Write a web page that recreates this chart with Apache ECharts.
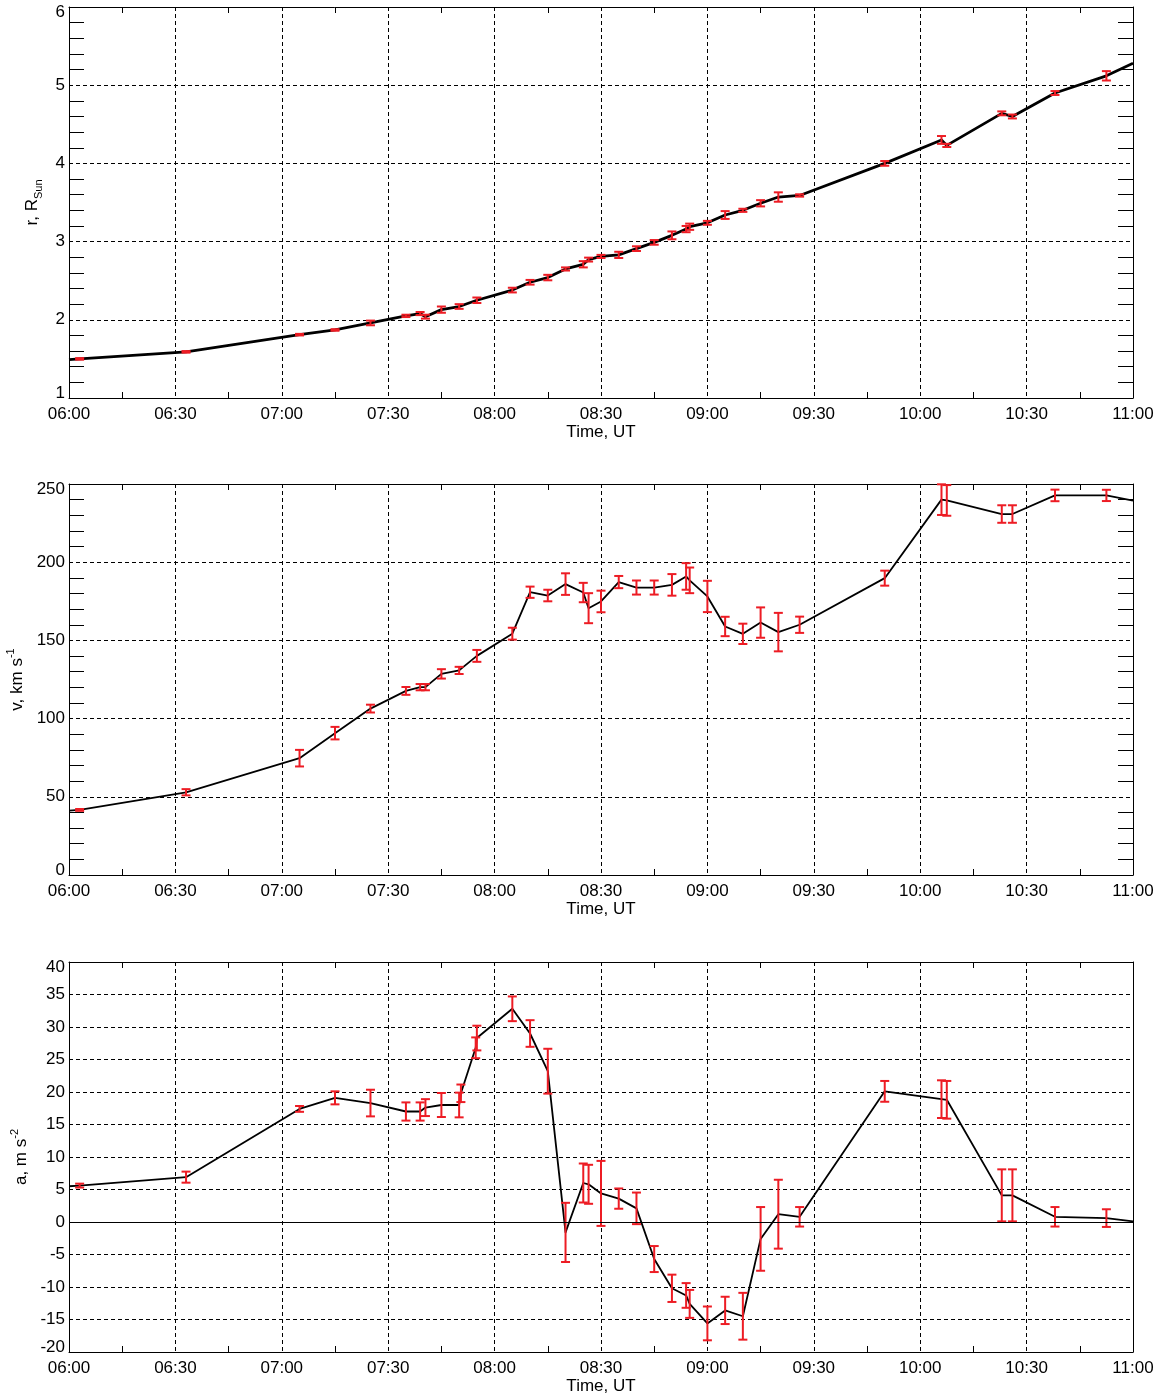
<!DOCTYPE html>
<html>
<head>
<meta charset="utf-8">
<title>r, v, a vs time</title>
<script src="https://cdn.jsdelivr.net/npm/echarts@6.0.0/dist/echarts.min.js"></script>
<style>
  html, body { margin: 0; padding: 0; background: #fff; }
  #chart { width: 1160px; height: 1397px; }
</style>
</head>
<body>
<div id="chart"></div>
<script>
// time axis: 06:00 .. 11:00, labelled every 30 min
const timeLabels = ['06:00', '06:30', '07:00', '07:30', '08:00', '08:30', '09:00', '09:30', '10:00', '10:30', '11:00'];

// top panel: distance, R_Sun
const rTimes = ['06:03', '06:33', '07:05', '07:15', '07:25', '07:35', '07:39', '07:40:30', '07:45', '07:50', '07:55',
  '08:05', '08:10', '08:15', '08:20', '08:25', '08:26:30', '08:30', '08:35', '08:40', '08:45', '08:50', '08:54', '08:55',
  '09:00', '09:05', '09:10', '09:15', '09:20', '09:26', '09:50', '10:06', '10:07:30', '10:23', '10:26', '10:38', '10:52:30'];
const rValues = [1.50, 1.59, 1.81, 1.87, 1.96, 2.05, 2.08, 2.04, 2.13, 2.17, 2.25,
  2.38, 2.48, 2.54, 2.65, 2.71, 2.77, 2.81, 2.83, 2.91, 2.99, 3.08, 3.16, 3.19,
  3.24, 3.34, 3.40, 3.49, 3.57, 3.59, 4.00, 4.30, 4.23, 4.64, 4.60, 4.90, 5.12];
const rErrors = [0.01, 0.01, 0.01, 0.01, 0.03, 0.015, 0.02, 0.025, 0.04, 0.03, 0.035,
  0.03, 0.03, 0.035, 0.02, 0.04, 0.025, 0.02, 0.04, 0.03, 0.03, 0.05, 0.04, 0.04,
  0.025, 0.05, 0.02, 0.04, 0.06, 0.015, 0.03, 0.05, 0.02, 0.025, 0.025, 0.025, 0.06];
// where the curve meets the frame
const rEdgeTimes = ['06:00', '11:00'];
const rEdgeValues = [1.49, 5.28];

// middle panel: speed, km/s
const vTimes = rTimes;
const vValues = [41.6, 52.9, 74.7, 90.7, 106.4, 117.7, 120.1, 120.1, 128.6, 130.8, 140.1,
  154.3, 180.8, 178.7, 186.0, 180.6, 170.6, 174.9, 187.3, 183.8, 183.8, 185.5, 190.9, 188.4,
  178.1, 158.9, 154.2, 161.4, 155.3, 160.0, 189.8, 240.0, 239.5, 230.8, 230.8, 242.7, 242.7];
const vErrors = [0.6, 2, 5.3, 4, 2.5, 2.5, 2, 2, 3, 2.3, 3.8,
  3.8, 3.6, 3.7, 6.9, 6.2, 9.6, 6.9, 3.9, 4.5, 4.5, 6.9, 8.5, 8.2,
  10, 6.2, 6.5, 9.7, 12.3, 5.2, 4.8, 9.8, 9.8, 5.6, 5.6, 3.7, 3.6];
const vEdgeTimes = ['06:00', '11:00'];
const vEdgeValues = [41.2, 239.3];

// bottom panel: acceleration, m/s^2
const aTimes = ['06:03', '06:33', '07:05', '07:15', '07:25', '07:35', '07:39', '07:40:30', '07:45', '07:50', '07:50:30',
  '07:54:40', '07:55', '08:05', '08:10', '08:15', '08:20', '08:25', '08:26:30', '08:30', '08:35', '08:40', '08:45', '08:50',
  '08:54', '08:55', '09:00', '09:05', '09:10', '09:15', '09:20', '09:26', '09:50', '10:06', '10:07:30', '10:23', '10:26',
  '10:38', '10:52:30'];
const aValues = [5.6, 6.9, 17.4, 19.1, 18.3, 17.0, 17.0, 17.6, 18.0, 18.0, 19.8,
  26.8, 28.3, 32.8, 29.0, 23.2, -1.6, 6.0, 5.8, 4.4, 3.6, 2.1, -5.7, -10.2,
  -11.3, -12.6, -15.6, -13.6, -14.5, -2.6, 1.2, 0.8, 20.1, 18.9, 18.8, 4.1, 4.1,
  0.8, 0.6];
const aErrors = [0.3, 0.85, 0.45, 1.0, 2.05, 1.4, 1.4, 1.3, 1.85, 1.9, 1.35,
  1.6, 1.9, 1.9, 2.05, 3.45, 4.55, 3.0, 3.0, 5.0, 1.56, 2.43, 2.0, 2.1,
  1.9, 2.15, 2.6, 2.1, 3.6, 4.9, 5.3, 1.5, 1.6, 2.9, 2.9, 4.0, 4.0,
  1.5, 1.36];
const aEdgeTimes = ['06:00', '11:00'];
const aEdgeValues = [5.5, 0.1];

const RED = '#ed1c24';
const FONT = 'Liberation Sans';

// 'HH:MM[:SS]' -> minutes after 06:00
function toMin(t) {
  const p = t.split(':').map(Number);
  return (p[0] - 6) * 60 + p[1] + (p[2] || 0) / 60;
}

function curve(times, values, edgeTimes, edgeValues) {
  const pts = times.map((t, i) => [toMin(t), values[i]]);
  pts.unshift([toMin(edgeTimes[0]), edgeValues[0]]);
  pts.push([toMin(edgeTimes[1]), edgeValues[1]]);
  return pts;
}

function bars(times, values, errors) {
  return times.map((t, i) => [toMin(t), values[i] - errors[i], values[i] + errors[i]]);
}

// red I-shaped error bar
function renderBar(params, api) {
  const lo = api.coord([api.value(0), api.value(1)]);
  const hi = api.coord([api.value(0), api.value(2)]);
  const w = 4.5;
  const style = { stroke: RED, lineWidth: 2 };
  return {
    type: 'group',
    children: [
      { type: 'line', shape: { x1: lo[0], y1: lo[1], x2: hi[0], y2: hi[1] }, style: style },
      { type: 'line', shape: { x1: lo[0] - w, y1: lo[1], x2: lo[0] + w, y2: lo[1] }, style: style },
      { type: 'line', shape: { x1: hi[0] - w, y1: hi[1], x2: hi[0] + w, y2: hi[1] }, style: style }
    ]
  };
}

const frameLine = { show: true, onZero: false, lineStyle: { color: '#000', width: 1 } };
const gridDash = { show: true, lineStyle: { color: '#000', width: 1, type: [4, 3] } };

function xAxes(gi) {
  const base = {
    type: 'value', gridIndex: gi, min: 0, max: 300, interval: 30,
    axisLine: frameLine,
    axisTick: { show: false, inside: true },
    minorTick: { show: true, splitNumber: 2, length: 6, lineStyle: { color: '#000', width: 1 } }
  };
  return [
    Object.assign({}, base, {
      position: 'bottom',
      name: 'Time, UT', nameLocation: 'middle', nameGap: 26,
      nameTextStyle: { fontSize: 17, color: '#000', fontFamily: FONT },
      axisLabel: {
        fontSize: 17, color: '#000', fontFamily: FONT, margin: 8,
        showMinLabel: true, showMaxLabel: true,
        formatter: v => timeLabels[Math.round(v / 30)]
      },
      splitLine: gridDash
    }),
    Object.assign({}, base, { position: 'top', axisLabel: { show: false }, splitLine: { show: false } })
  ];
}

// end labels sit a little inside the frame
const edgeRich = {
  hi: { fontSize: 17, color: '#000', fontFamily: FONT, padding: [10, 0, 0, 0] },
  lo: { fontSize: 17, color: '#000', fontFamily: FONT, padding: [0, 0, 10, 0] }
};

function yAxes(gi, min, max, interval, minorSplit, name, rich, nameGap) {
  const base = {
    type: 'value', gridIndex: gi, min: min, max: max, interval: interval,
    axisLine: frameLine,
    axisTick: { show: false, inside: true },
    minorTick: { show: minorSplit > 0, splitNumber: minorSplit || 5, length: 15, lineStyle: { color: '#000', width: 1 } }
  };
  return [
    Object.assign({}, base, {
      position: 'left',
      name: name, nameLocation: 'middle', nameRotate: 90, nameGap: nameGap,
      nameTextStyle: { color: '#000', fontFamily: FONT, rich: rich },
      axisLabel: {
        fontSize: 17, color: '#000', fontFamily: FONT, margin: 4,
        showMinLabel: true, showMaxLabel: true, rich: edgeRich,
        formatter: v => v === max ? '{hi|' + v + '}' : v === min ? '{lo|' + v + '}' : String(v)
      },
      splitLine: gridDash
    }),
    Object.assign({}, base, { position: 'right', axisLabel: { show: false }, splitLine: { show: false } })
  ];
}

const subRich = {
  m: { fontSize: 17, lineHeight: 25, color: '#000', fontFamily: FONT },
  s: { fontSize: 11, lineHeight: 11, verticalAlign: 'bottom', color: '#000', fontFamily: FONT }
};
const supRich = {
  m: { fontSize: 17, lineHeight: 23, color: '#000', fontFamily: FONT },
  s: { fontSize: 11, lineHeight: 11, verticalAlign: 'top', color: '#000', fontFamily: FONT }
};

const grids = [
  { left: 69, width: 1064, top: 7, height: 391 },
  { left: 69, width: 1064, top: 484, height: 391 },
  { left: 69, width: 1064, top: 962, height: 390 }
];

function panelSeries(xi, yi, lineData, barData, lineWidth, zeroLine) {
  const line = {
    type: 'line', xAxisIndex: xi, yAxisIndex: yi, data: lineData,
    symbol: 'none', z: 3,
    lineStyle: { color: '#000', width: lineWidth, join: 'round' }
  };
  if (zeroLine) {
    line.markLine = {
      silent: true, symbol: ['none', 'none'], label: { show: false },
      lineStyle: { color: '#000', width: 1, type: 'solid' },
      data: [{ yAxis: 0 }]
    };
  }
  return [
    line,
    {
      type: 'custom', xAxisIndex: xi, yAxisIndex: yi, data: barData,
      renderItem: renderBar, encode: { x: 0, y: [1, 2] }, z: 4
    }
  ];
}

const chart = echarts.init(document.getElementById('chart'), null, { renderer: 'canvas' });
chart.setOption({
  animation: false,
  backgroundColor: '#fff',
  textStyle: { fontFamily: FONT },
  grid: grids.map(g => Object.assign({ outerBoundsMode: 'none' }, g)),
  xAxis: [].concat(xAxes(0), xAxes(1), xAxes(2)),
  yAxis: [].concat(
    yAxes(0, 1, 6, 1, 5, '{m|r, R}{s|Sun}', subRich, 20),
    yAxes(1, 0, 250, 50, 5, '{m|v, km s}{s|-1}', supRich, 38),
    yAxes(2, -20, 40, 5, 0, '{m|a, m s}{s|-2}', supRich, 35)
  ),
  series: [].concat(
    panelSeries(0, 0, curve(rTimes, rValues, rEdgeTimes, rEdgeValues), bars(rTimes, rValues, rErrors), 2.8, false),
    panelSeries(2, 2, curve(vTimes, vValues, vEdgeTimes, vEdgeValues), bars(vTimes, vValues, vErrors), 1.8, false),
    panelSeries(4, 4, curve(aTimes, aValues, aEdgeTimes, aEdgeValues), bars(aTimes, aValues, aErrors), 1.8, true)
  )
});
</script>
</body>
</html>
